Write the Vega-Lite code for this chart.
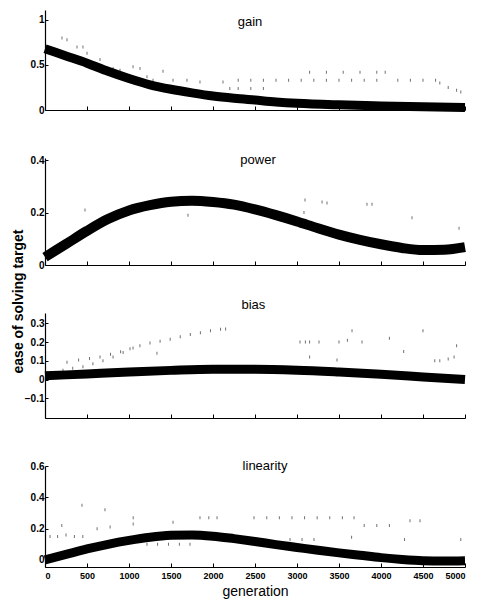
{
  "$schema": "https://vega.github.io/schema/vega-lite/v6.json",
  "background": "white",
  "padding": {"left": 10, "top": 10, "right": 8, "bottom": 4},
  "spacing": 48,
  "bounds": "flush",
  "config": {
    "view": {"stroke": null},
    "font": "Liberation Sans",
    "axis": {"grid": false, "domainColor": "black", "tickColor": "black", "labelColor": "black", "titleColor": "black", "labelFont": "Liberation Sans", "labelFontWeight": "bold", "labelFontSize": 10, "domainWidth": 1.2, "labelOverlap": false}
  },
  "datasets": {"ease": [
    {"panel":"gain","kind":"curve","generation":0,"value":0.68},
    {"panel":"gain","kind":"curve","generation":250,"value":0.6},
    {"panel":"gain","kind":"curve","generation":500,"value":0.52},
    {"panel":"gain","kind":"curve","generation":750,"value":0.43},
    {"panel":"gain","kind":"curve","generation":1000,"value":0.35},
    {"panel":"gain","kind":"curve","generation":1250,"value":0.28},
    {"panel":"gain","kind":"curve","generation":1500,"value":0.23},
    {"panel":"gain","kind":"curve","generation":1750,"value":0.19},
    {"panel":"gain","kind":"curve","generation":2000,"value":0.155},
    {"panel":"gain","kind":"curve","generation":2250,"value":0.13},
    {"panel":"gain","kind":"curve","generation":2500,"value":0.11},
    {"panel":"gain","kind":"curve","generation":2750,"value":0.09},
    {"panel":"gain","kind":"curve","generation":3000,"value":0.075},
    {"panel":"gain","kind":"curve","generation":3500,"value":0.057},
    {"panel":"gain","kind":"curve","generation":4000,"value":0.045},
    {"panel":"gain","kind":"curve","generation":4500,"value":0.035},
    {"panel":"gain","kind":"curve","generation":5000,"value":0.027},
    {"panel":"gain","kind":"dot","generation":202,"value":0.8},
    {"panel":"gain","kind":"dot","generation":262,"value":0.78},
    {"panel":"gain","kind":"dot","generation":381,"value":0.7},
    {"panel":"gain","kind":"dot","generation":452,"value":0.7},
    {"panel":"gain","kind":"dot","generation":500,"value":0.63},
    {"panel":"gain","kind":"dot","generation":655,"value":0.56},
    {"panel":"gain","kind":"dot","generation":810,"value":0.46},
    {"panel":"gain","kind":"dot","generation":893,"value":0.44},
    {"panel":"gain","kind":"dot","generation":1048,"value":0.48},
    {"panel":"gain","kind":"dot","generation":1131,"value":0.46},
    {"panel":"gain","kind":"dot","generation":1214,"value":0.37},
    {"panel":"gain","kind":"dot","generation":1286,"value":0.33},
    {"panel":"gain","kind":"dot","generation":1405,"value":0.43},
    {"panel":"gain","kind":"dot","generation":1524,"value":0.33},
    {"panel":"gain","kind":"dot","generation":1690,"value":0.33},
    {"panel":"gain","kind":"dot","generation":1845,"value":0.31},
    {"panel":"gain","kind":"dot","generation":2119,"value":0.31},
    {"panel":"gain","kind":"dot","generation":2200,"value":0.24},
    {"panel":"gain","kind":"dot","generation":2300,"value":0.33},
    {"panel":"gain","kind":"dot","generation":2450,"value":0.33},
    {"panel":"gain","kind":"dot","generation":2600,"value":0.33},
    {"panel":"gain","kind":"dot","generation":2750,"value":0.33},
    {"panel":"gain","kind":"dot","generation":2900,"value":0.33},
    {"panel":"gain","kind":"dot","generation":3050,"value":0.33},
    {"panel":"gain","kind":"dot","generation":3200,"value":0.33},
    {"panel":"gain","kind":"dot","generation":3350,"value":0.33},
    {"panel":"gain","kind":"dot","generation":3500,"value":0.33},
    {"panel":"gain","kind":"dot","generation":3650,"value":0.33},
    {"panel":"gain","kind":"dot","generation":3800,"value":0.33},
    {"panel":"gain","kind":"dot","generation":3950,"value":0.33},
    {"panel":"gain","kind":"dot","generation":4200,"value":0.33},
    {"panel":"gain","kind":"dot","generation":4350,"value":0.33},
    {"panel":"gain","kind":"dot","generation":4500,"value":0.33},
    {"panel":"gain","kind":"dot","generation":4650,"value":0.33},
    {"panel":"gain","kind":"dot","generation":2300,"value":0.24},
    {"panel":"gain","kind":"dot","generation":2450,"value":0.24},
    {"panel":"gain","kind":"dot","generation":2600,"value":0.24},
    {"panel":"gain","kind":"dot","generation":3150,"value":0.42},
    {"panel":"gain","kind":"dot","generation":3350,"value":0.42},
    {"panel":"gain","kind":"dot","generation":3550,"value":0.42},
    {"panel":"gain","kind":"dot","generation":3750,"value":0.42},
    {"panel":"gain","kind":"dot","generation":3950,"value":0.42},
    {"panel":"gain","kind":"dot","generation":4050,"value":0.42},
    {"panel":"gain","kind":"dot","generation":4700,"value":0.3},
    {"panel":"gain","kind":"dot","generation":4800,"value":0.25},
    {"panel":"gain","kind":"dot","generation":4900,"value":0.22},
    {"panel":"gain","kind":"dot","generation":4950,"value":0.2},

    {"panel":"power","kind":"curve","generation":0,"value":0.03},
    {"panel":"power","kind":"curve","generation":250,"value":0.08},
    {"panel":"power","kind":"curve","generation":500,"value":0.13},
    {"panel":"power","kind":"curve","generation":750,"value":0.175},
    {"panel":"power","kind":"curve","generation":1000,"value":0.208},
    {"panel":"power","kind":"curve","generation":1250,"value":0.228},
    {"panel":"power","kind":"curve","generation":1500,"value":0.241},
    {"panel":"power","kind":"curve","generation":1750,"value":0.245},
    {"panel":"power","kind":"curve","generation":2000,"value":0.24},
    {"panel":"power","kind":"curve","generation":2250,"value":0.23},
    {"panel":"power","kind":"curve","generation":2500,"value":0.212},
    {"panel":"power","kind":"curve","generation":2750,"value":0.19},
    {"panel":"power","kind":"curve","generation":3000,"value":0.166},
    {"panel":"power","kind":"curve","generation":3250,"value":0.14},
    {"panel":"power","kind":"curve","generation":3500,"value":0.116},
    {"panel":"power","kind":"curve","generation":3750,"value":0.096},
    {"panel":"power","kind":"curve","generation":4000,"value":0.079},
    {"panel":"power","kind":"curve","generation":4250,"value":0.065},
    {"panel":"power","kind":"curve","generation":4500,"value":0.057},
    {"panel":"power","kind":"curve","generation":4750,"value":0.058},
    {"panel":"power","kind":"curve","generation":5000,"value":0.068},
    {"panel":"power","kind":"dot","generation":476,"value":0.21},
    {"panel":"power","kind":"dot","generation":1000,"value":0.21},
    {"panel":"power","kind":"dot","generation":1702,"value":0.19},
    {"panel":"power","kind":"dot","generation":3083,"value":0.2},
    {"panel":"power","kind":"dot","generation":3095,"value":0.248},
    {"panel":"power","kind":"dot","generation":3298,"value":0.24},
    {"panel":"power","kind":"dot","generation":3357,"value":0.236},
    {"panel":"power","kind":"dot","generation":3833,"value":0.232},
    {"panel":"power","kind":"dot","generation":3893,"value":0.232},
    {"panel":"power","kind":"dot","generation":4369,"value":0.18},
    {"panel":"power","kind":"dot","generation":4929,"value":0.14},

    {"panel":"bias","kind":"curve","generation":0,"value":0.02},
    {"panel":"bias","kind":"curve","generation":500,"value":0.03},
    {"panel":"bias","kind":"curve","generation":1000,"value":0.04},
    {"panel":"bias","kind":"curve","generation":1500,"value":0.049},
    {"panel":"bias","kind":"curve","generation":2000,"value":0.055},
    {"panel":"bias","kind":"curve","generation":2500,"value":0.055},
    {"panel":"bias","kind":"curve","generation":3000,"value":0.05},
    {"panel":"bias","kind":"curve","generation":3500,"value":0.04},
    {"panel":"bias","kind":"curve","generation":4000,"value":0.028},
    {"panel":"bias","kind":"curve","generation":4500,"value":0.014},
    {"panel":"bias","kind":"curve","generation":5000,"value":0.0},
    {"panel":"bias","kind":"dot","generation":262,"value":0.093},
    {"panel":"bias","kind":"dot","generation":400,"value":0.105},
    {"panel":"bias","kind":"dot","generation":530,"value":0.113},
    {"panel":"bias","kind":"dot","generation":655,"value":0.12},
    {"panel":"bias","kind":"dot","generation":780,"value":0.135},
    {"panel":"bias","kind":"dot","generation":900,"value":0.148},
    {"panel":"bias","kind":"dot","generation":1012,"value":0.165},
    {"panel":"bias","kind":"dot","generation":1130,"value":0.18},
    {"panel":"bias","kind":"dot","generation":1250,"value":0.195},
    {"panel":"bias","kind":"dot","generation":1370,"value":0.205},
    {"panel":"bias","kind":"dot","generation":1490,"value":0.215},
    {"panel":"bias","kind":"dot","generation":1610,"value":0.228},
    {"panel":"bias","kind":"dot","generation":1730,"value":0.24},
    {"panel":"bias","kind":"dot","generation":1850,"value":0.25},
    {"panel":"bias","kind":"dot","generation":1970,"value":0.26},
    {"panel":"bias","kind":"dot","generation":2090,"value":0.268},
    {"panel":"bias","kind":"dot","generation":2150,"value":0.27},
    {"panel":"bias","kind":"dot","generation":214,"value":0.05},
    {"panel":"bias","kind":"dot","generation":330,"value":0.06},
    {"panel":"bias","kind":"dot","generation":452,"value":0.068},
    {"panel":"bias","kind":"dot","generation":570,"value":0.085},
    {"panel":"bias","kind":"dot","generation":690,"value":0.1},
    {"panel":"bias","kind":"dot","generation":810,"value":0.12},
    {"panel":"bias","kind":"dot","generation":930,"value":0.145},
    {"panel":"bias","kind":"dot","generation":1048,"value":0.168},
    {"panel":"bias","kind":"dot","generation":1333,"value":0.14},
    {"panel":"bias","kind":"dot","generation":3036,"value":0.2},
    {"panel":"bias","kind":"dot","generation":3100,"value":0.2},
    {"panel":"bias","kind":"dot","generation":3150,"value":0.2},
    {"panel":"bias","kind":"dot","generation":3262,"value":0.2},
    {"panel":"bias","kind":"dot","generation":3150,"value":0.12},
    {"panel":"bias","kind":"dot","generation":3476,"value":0.105},
    {"panel":"bias","kind":"dot","generation":3500,"value":0.2},
    {"panel":"bias","kind":"dot","generation":3600,"value":0.21},
    {"panel":"bias","kind":"dot","generation":3655,"value":0.26},
    {"panel":"bias","kind":"dot","generation":3774,"value":0.2},
    {"panel":"bias","kind":"dot","generation":4100,"value":0.22},
    {"panel":"bias","kind":"dot","generation":4270,"value":0.15},
    {"panel":"bias","kind":"dot","generation":4500,"value":0.26},
    {"panel":"bias","kind":"dot","generation":4640,"value":0.1},
    {"panel":"bias","kind":"dot","generation":4700,"value":0.1},
    {"panel":"bias","kind":"dot","generation":4800,"value":0.11},
    {"panel":"bias","kind":"dot","generation":4870,"value":0.12},
    {"panel":"bias","kind":"dot","generation":4900,"value":0.18},

    {"panel":"linearity","kind":"curve","generation":0,"value":0.0},
    {"panel":"linearity","kind":"curve","generation":250,"value":0.035},
    {"panel":"linearity","kind":"curve","generation":500,"value":0.07},
    {"panel":"linearity","kind":"curve","generation":750,"value":0.1},
    {"panel":"linearity","kind":"curve","generation":1000,"value":0.125},
    {"panel":"linearity","kind":"curve","generation":1250,"value":0.145},
    {"panel":"linearity","kind":"curve","generation":1500,"value":0.157},
    {"panel":"linearity","kind":"curve","generation":1750,"value":0.16},
    {"panel":"linearity","kind":"curve","generation":2000,"value":0.152},
    {"panel":"linearity","kind":"curve","generation":2250,"value":0.136},
    {"panel":"linearity","kind":"curve","generation":2500,"value":0.118},
    {"panel":"linearity","kind":"curve","generation":2750,"value":0.098},
    {"panel":"linearity","kind":"curve","generation":3000,"value":0.08},
    {"panel":"linearity","kind":"curve","generation":3250,"value":0.062},
    {"panel":"linearity","kind":"curve","generation":3500,"value":0.045},
    {"panel":"linearity","kind":"curve","generation":3750,"value":0.03},
    {"panel":"linearity","kind":"curve","generation":4000,"value":0.015},
    {"panel":"linearity","kind":"curve","generation":4250,"value":0.003},
    {"panel":"linearity","kind":"curve","generation":4500,"value":-0.005},
    {"panel":"linearity","kind":"curve","generation":4750,"value":-0.007},
    {"panel":"linearity","kind":"curve","generation":5000,"value":-0.005},
    {"panel":"linearity","kind":"dot","generation":60,"value":0.15},
    {"panel":"linearity","kind":"dot","generation":150,"value":0.15},
    {"panel":"linearity","kind":"dot","generation":250,"value":0.16},
    {"panel":"linearity","kind":"dot","generation":350,"value":0.15},
    {"panel":"linearity","kind":"dot","generation":450,"value":0.15},
    {"panel":"linearity","kind":"dot","generation":440,"value":0.35},
    {"panel":"linearity","kind":"dot","generation":714,"value":0.32},
    {"panel":"linearity","kind":"dot","generation":200,"value":0.22},
    {"panel":"linearity","kind":"dot","generation":620,"value":0.2},
    {"panel":"linearity","kind":"dot","generation":775,"value":0.21},
    {"panel":"linearity","kind":"dot","generation":1050,"value":0.27},
    {"panel":"linearity","kind":"dot","generation":1050,"value":0.23},
    {"panel":"linearity","kind":"dot","generation":1524,"value":0.24},
    {"panel":"linearity","kind":"dot","generation":1214,"value":0.1},
    {"panel":"linearity","kind":"dot","generation":1340,"value":0.1},
    {"panel":"linearity","kind":"dot","generation":1470,"value":0.1},
    {"panel":"linearity","kind":"dot","generation":1600,"value":0.1},
    {"panel":"linearity","kind":"dot","generation":1726,"value":0.1},
    {"panel":"linearity","kind":"dot","generation":1845,"value":0.27},
    {"panel":"linearity","kind":"dot","generation":1950,"value":0.27},
    {"panel":"linearity","kind":"dot","generation":2048,"value":0.27},
    {"panel":"linearity","kind":"dot","generation":2488,"value":0.27},
    {"panel":"linearity","kind":"dot","generation":2640,"value":0.27},
    {"panel":"linearity","kind":"dot","generation":2790,"value":0.27},
    {"panel":"linearity","kind":"dot","generation":2940,"value":0.27},
    {"panel":"linearity","kind":"dot","generation":3090,"value":0.27},
    {"panel":"linearity","kind":"dot","generation":3240,"value":0.27},
    {"panel":"linearity","kind":"dot","generation":3390,"value":0.27},
    {"panel":"linearity","kind":"dot","generation":3540,"value":0.27},
    {"panel":"linearity","kind":"dot","generation":3679,"value":0.27},
    {"panel":"linearity","kind":"dot","generation":3800,"value":0.22},
    {"panel":"linearity","kind":"dot","generation":3950,"value":0.22},
    {"panel":"linearity","kind":"dot","generation":4100,"value":0.22},
    {"panel":"linearity","kind":"dot","generation":2917,"value":0.13},
    {"panel":"linearity","kind":"dot","generation":3060,"value":0.13},
    {"panel":"linearity","kind":"dot","generation":3202,"value":0.13},
    {"panel":"linearity","kind":"dot","generation":4345,"value":0.25},
    {"panel":"linearity","kind":"dot","generation":4464,"value":0.25},
    {"panel":"linearity","kind":"dot","generation":3650,"value":0.145},
    {"panel":"linearity","kind":"dot","generation":4280,"value":0.13},
    {"panel":"linearity","kind":"dot","generation":4950,"value":0.13}
  ],
  "titles": [
    {"panel": "gain", "generation": 2440, "value": 0.98},
    {"panel": "power", "generation": 2536, "value": 0.4},
    {"panel": "bias", "generation": 2480, "value": 0.397},
    {"panel": "linearity", "generation": 2619, "value": 0.6}
  ]},
  "vconcat": [
    {
      "width": 420, "height": 100,
      "encoding": {
        "x": {"field": "generation", "type": "quantitative", "scale": {"domain": [0, 5000], "nice": false, "zero": false},
              "axis": {"values": [0,500,1000,1500,2000,2500,3000,3500,4000,4500,5000], "labels": false, "title": null, "tickSize": -4}},
        "y": {"field": "value", "type": "quantitative", "scale": {"domain": [0, 1.11], "nice": false, "zero": false},
              "axis": {"values": [0, 0.5, 1], "format": "~g", "title": null, "tickSize": -3, "labelPadding": 4, "labelOverlap": false}}
      },
      "layer": [
        {"data": {"name": "ease"}, "transform": [{"filter": "datum.panel === 'gain' && datum.kind === 'dot'"}],
         "mark": {"type": "tick", "orient": "vertical", "size": 3, "thickness": 1, "color": "#333"}},
        {"data": {"name": "ease"}, "transform": [{"filter": "datum.panel === 'gain' && datum.kind === 'curve'"}],
         "mark": {"type": "line", "strokeWidth": 9, "color": "black", "interpolate": "monotone"}},
        {"data": {"name": "titles"}, "transform": [{"filter": "datum.panel === 'gain'"}],
         "mark": {"type": "text", "fontSize": 13, "font": "Liberation Sans", "color": "black"},
         "encoding": {"text": {"field": "panel"}}}
      ]
    },
    {
      "width": 420, "height": 107,
      "encoding": {
        "x": {"field": "generation", "type": "quantitative", "scale": {"domain": [0, 5000], "nice": false, "zero": false},
              "axis": {"values": [0,500,1000,1500,2000,2500,3000,3500,4000,4500,5000], "labels": false, "title": null, "tickSize": -4}},
        "y": {"field": "value", "type": "quantitative", "scale": {"domain": [0, 0.408], "nice": false, "zero": false},
              "axis": {"values": [0, 0.2, 0.4], "format": "~g", "title": null, "tickSize": -3, "labelPadding": 4, "labelOverlap": false}}
      },
      "layer": [
        {"data": {"name": "ease"}, "transform": [{"filter": "datum.panel === 'power' && datum.kind === 'dot'"}],
         "mark": {"type": "tick", "orient": "vertical", "size": 3, "thickness": 1, "color": "#333"}},
        {"data": {"name": "ease"}, "transform": [{"filter": "datum.panel === 'power' && datum.kind === 'curve'"}],
         "mark": {"type": "line", "strokeWidth": 10, "color": "black", "interpolate": "monotone"}},
        {"data": {"name": "titles"}, "transform": [{"filter": "datum.panel === 'power'"}],
         "mark": {"type": "text", "fontSize": 13, "font": "Liberation Sans", "color": "black"},
         "encoding": {"text": {"field": "panel"}}}
      ]
    },
    {
      "width": 420, "height": 105,
      "encoding": {
        "x": {"field": "generation", "type": "quantitative", "scale": {"domain": [0, 5000], "nice": false, "zero": false},
              "axis": {"values": [0,500,1000,1500,2000,2500,3000,3500,4000,4500,5000], "labels": false, "title": null, "tickSize": -4}},
        "y": {"field": "value", "type": "quantitative", "scale": {"domain": [-0.205, 0.355], "nice": false, "zero": false},
              "axis": {"values": [-0.1, 0, 0.1, 0.2, 0.3], "format": "~g", "title": "ease of solving target", "titleFontSize": 14, "titleFontWeight": "bold", "titleX": -20, "titleY": -12, "tickSize": -3, "labelPadding": 4, "labelOverlap": false}}
      },
      "layer": [
        {"data": {"name": "ease"}, "transform": [{"filter": "datum.panel === 'bias' && datum.kind === 'dot'"}],
         "mark": {"type": "tick", "orient": "vertical", "size": 3, "thickness": 1, "color": "#333"}},
        {"data": {"name": "ease"}, "transform": [{"filter": "datum.panel === 'bias' && datum.kind === 'curve'"}],
         "mark": {"type": "line", "strokeWidth": 9, "color": "black", "interpolate": "monotone"}},
        {"data": {"name": "titles"}, "transform": [{"filter": "datum.panel === 'bias'"}],
         "mark": {"type": "text", "fontSize": 13, "font": "Liberation Sans", "color": "black"},
         "encoding": {"text": {"field": "panel"}}}
      ]
    },
    {
      "width": 420, "height": 101,
      "encoding": {
        "x": {"field": "generation", "type": "quantitative", "scale": {"domain": [0, 5000], "nice": false, "zero": false},
              "axis": {"values": [0,500,1000,1500,2000,2500,3000,3500,4000,4500,5000], "format": "d", "title": "generation", "titleFontSize": 14, "titleFontWeight": "normal", "titlePadding": 4, "labelPadding": 8, "labelFontSize": 9, "tickSize": -4}},
        "y": {"field": "value", "type": "quantitative", "scale": {"domain": [-0.045, 0.6], "nice": false, "zero": false},
              "axis": {"values": [0, 0.2, 0.4, 0.6], "format": "~g", "title": null, "tickSize": -3, "labelPadding": 4, "labelOverlap": false}}
      },
      "layer": [
        {"data": {"name": "ease"}, "transform": [{"filter": "datum.panel === 'linearity' && datum.kind === 'dot'"}],
         "mark": {"type": "tick", "orient": "vertical", "size": 3, "thickness": 1, "color": "#333"}},
        {"data": {"name": "ease"}, "transform": [{"filter": "datum.panel === 'linearity' && datum.kind === 'curve'"}],
         "mark": {"type": "line", "strokeWidth": 9, "color": "black", "interpolate": "monotone"}},
        {"data": {"name": "titles"}, "transform": [{"filter": "datum.panel === 'linearity'"}],
         "mark": {"type": "text", "fontSize": 13, "font": "Liberation Sans", "color": "black"},
         "encoding": {"text": {"field": "panel"}}}
      ]
    }
  ]
}
